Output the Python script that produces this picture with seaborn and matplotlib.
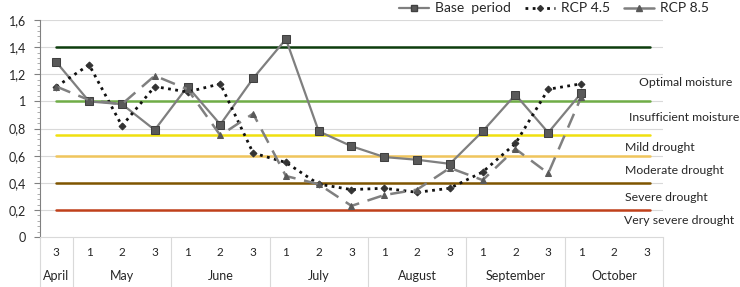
import numpy as np
import pandas as pd
import seaborn as sns
import matplotlib.pyplot as plt
from matplotlib.ticker import MultipleLocator, FuncFormatter
from matplotlib.lines import Line2D

# decades (1-3) per month, April 3 .. October 3
decades = ['3', '1', '2', '3', '1', '2', '3', '1', '2', '3',
           '1', '2', '3', '1', '2', '3', '1', '2', '3']
months = ['April', 'May', 'June', 'July', 'August', 'September', 'October']
month_sizes = [1, 3, 3, 3, 3, 3, 3]

base_period = [1.29, 1.00, 0.98, 0.79, 1.11, 0.83, 1.17, 1.46, 0.78, 0.67,
               0.59, 0.57, 0.54, 0.78, 1.05, 0.77, 1.06, np.nan, np.nan]
rcp45 = [1.11, 1.27, 0.82, 1.11, 1.07, 1.13, 0.62, 0.55, 0.39, 0.35,
         0.36, 0.33, 0.36, 0.48, 0.69, 1.09, 1.13, np.nan, np.nan]
rcp85 = [1.11, 1.01, 0.98, 1.19, 1.09, 0.75, 0.91, 0.45, 0.39, 0.23,
         0.31, 0.35, 0.51, 0.42, 0.65, 0.47, 1.03, np.nan, np.nan]

thresholds = [1.4, 1.0, 0.75, 0.6, 0.4, 0.2]
threshold_colors = ['#0d3d0d', '#70ad47', '#f0e010', '#f0c55c', '#7f5500', '#c0401a']

zone_labels = ['Optimal moisture', 'Insufficient moisture', 'Mild drought',
               'Moderate drought', 'Severe drought', 'Very severe drought']
zone_label_y = [1.14, 0.88, 0.66, 0.49, 0.29, 0.125]
zone_label_x = [17.77, 17.46, 17.34, 17.34, 17.34, 17.3]

sns.set_style('white')
plt.rcParams['font.family'] = ['Lato', 'DejaVu Sans']

fig = plt.figure(figsize=(7.4, 2.87), dpi=100)
ax = fig.add_axes([0.054, 0.174, 0.842, 0.756])

x = np.arange(len(decades))
df = pd.DataFrame({'x': x, 'base': base_period, 'rcp45': rcp45, 'rcp85': rcp85})

for y in np.arange(0.2, 1.61, 0.2):
    ax.axhline(y, color='#d9d9d9', lw=0.8, zorder=0)

for t, c in zip(thresholds, threshold_colors):
    ax.plot([0, 18.1], [t, t], color=c, lw=1.8, zorder=1)

sns.lineplot(data=df, x='x', y='base', ax=ax, color='#7f7f7f', lw=1.6,
             marker='s', markersize=6, markerfacecolor='#595959',
             markeredgecolor='#404040', zorder=3)
sns.lineplot(data=df, x='x', y='rcp45', ax=ax, color='#111111', lw=2.0,
             marker='D', markersize=3.5,
             markerfacecolor='#333333', markeredgecolor='#333333', zorder=3)
ax.lines[-1].set_linestyle((0, (1, 1.6)))
sns.lineplot(data=df, x='x', y='rcp85', ax=ax, color='#808080', lw=1.8,
             marker='^', markersize=5,
             markerfacecolor='#595959', markeredgecolor='#595959', zorder=3)
ax.lines[-1].set_linestyle((0, (6, 3.5)))

ax.set_xlim(-0.5, 18.5)
ax.set_ylim(0, 1.6)
ax.yaxis.set_major_locator(MultipleLocator(0.2))
ax.yaxis.set_minor_locator(MultipleLocator(0.04))
ax.yaxis.set_major_formatter(FuncFormatter(lambda v, p: ('%g' % round(v, 1)).replace('.', ',')))
ax.tick_params(axis='y', which='major', left=True, length=4, color='#808080', labelsize=9, pad=6)
ax.tick_params(axis='y', which='minor', left=True, length=2, color='#a0a0a0')
ax.set_xticks([])
ax.set_xlabel('')
ax.set_ylabel('')
for s in ['top', 'right']:
    ax.spines[s].set_visible(False)
ax.spines['left'].set_color('#808080')
ax.spines['bottom'].set_color('#d9d9d9')

# two-level category axis
for i, d in enumerate(decades):
    ax.text(i, -0.07, d, ha='center', va='center', fontsize=8.5,
            transform=ax.get_xaxis_transform(), clip_on=False)
bounds = np.concatenate([[0], np.cumsum(month_sizes)]) - 0.5
for b in bounds:
    ax.plot([b, b], [0, -0.235], color='#d9d9d9', lw=0.8,
            transform=ax.get_xaxis_transform(), clip_on=False)
for m, lo, hi in zip(months, bounds[:-1], bounds[1:]):
    ax.text((lo + hi) / 2, -0.18, m, ha='center', va='center', fontsize=9,
            transform=ax.get_xaxis_transform(), clip_on=False)

for lab, lx, ly in zip(zone_labels, zone_label_x, zone_label_y):
    ax.text(lx, ly, lab, ha='left', va='center', fontsize=8.8, clip_on=False)

handles = [
    Line2D([], [], color='#7f7f7f', lw=1.6, marker='s', markersize=5,
           markerfacecolor='#595959', markeredgecolor='#404040'),
    Line2D([], [], color='#111111', lw=2.0, linestyle=(0, (1, 1.6)), marker='D',
           markersize=3, markerfacecolor='#333333', markeredgecolor='#333333'),
    Line2D([], [], color='#7f7f7f', lw=1.8, marker='^', markersize=4,
           markerfacecolor='#595959', markeredgecolor='#595959'),
]
fig.legend(handles, ['Base  period', 'RCP 4.5', 'RCP 8.5'], ncol=3,
           loc='upper right', bbox_to_anchor=(0.975, 1.035), frameon=False,
           fontsize=10, handlelength=2.2, handletextpad=0.4, columnspacing=1.0)

fig.savefig('out.png', dpi=100)
